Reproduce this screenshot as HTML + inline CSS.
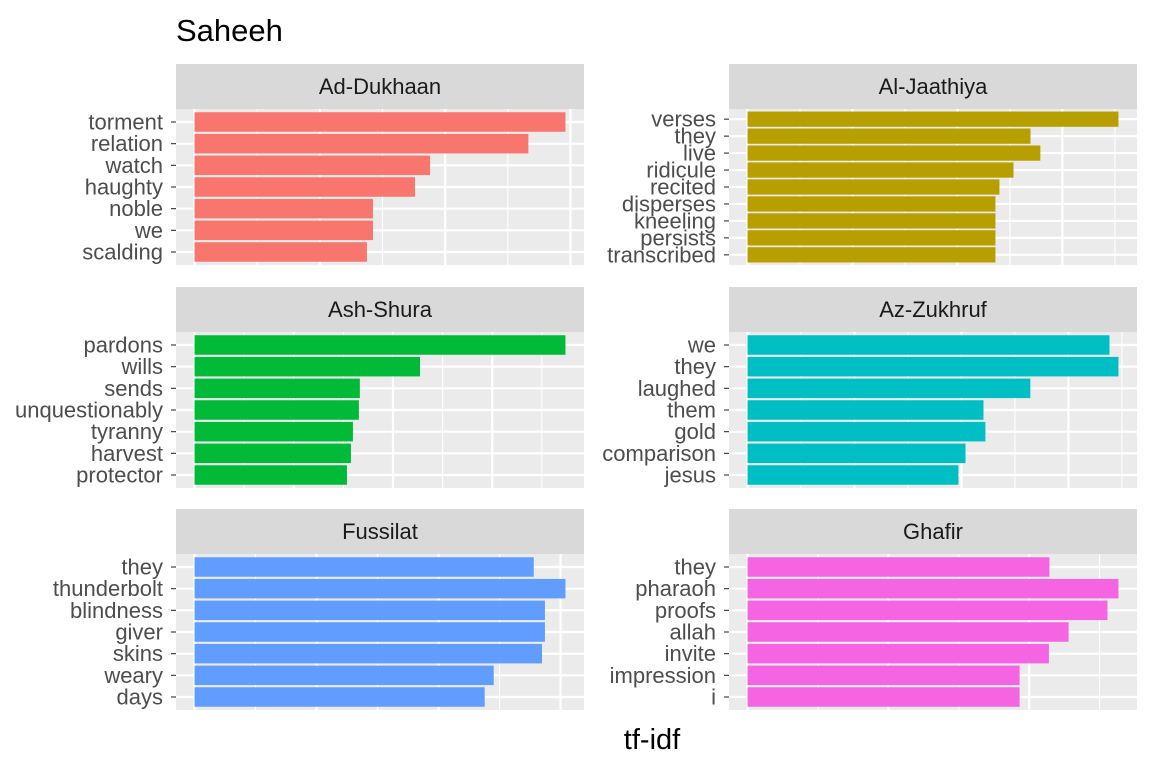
<!DOCTYPE html>
<html><head><meta charset="utf-8"><style>
html,body{margin:0;padding:0;background:#fff}
svg{display:block;font-family:"Liberation Sans",Arial,sans-serif}
</style></head><body>
<svg id="chart" width="1152" height="768" viewBox="0 0 1152 768" xmlns="http://www.w3.org/2000/svg">
<rect x="0" y="0" width="1152" height="768" fill="#fff"/>
<text x="176" y="41" font-size="31" fill="#000">Saheeh</text>
<text x="652" y="749" font-size="29" fill="#000" text-anchor="middle">tf-idf</text>
<g id="panels"></g>
</svg>
<script>
const facetNames = ["Ad-Dukhaan","Al-Jaathiya","Ash-Shura","Az-Zukhruf","Fussilat","Ghafir"];
const facetColors = ["#F8766D","#B79F00","#00BA38","#00BFC4","#619CFF","#F564E3"];
const breakSteps = [0.005,0.005,0.005,0.005,0.005,0.005];
const termsAdDukhaan = ["torment","relation","watch","haughty","noble","we","scalding"];
const valuesAdDukhaan = [0.0148,0.01332,0.0094,0.0088,0.00712,0.00712,0.00688];
const termsAlJaathiya = ["verses","they","live","ridicule","recited","disperses","kneeling","persists","transcribed"];
const valuesAlJaathiya = [0.01767,0.01348,0.01395,0.01267,0.012,0.01181,0.01181,0.01181,0.01181];
const termsAshShura = ["pardons","wills","sends","unquestionably","tyranny","harvest","protector"];
const valuesAshShura = [0.01869,0.01136,0.00833,0.00828,0.00798,0.00788,0.00768];
const termsAzZukhruf = ["we","they","laughed","them","gold","comparison","jesus"];
const valuesAzZukhruf = [0.01692,0.01734,0.01322,0.01103,0.01112,0.01019,0.00986];
const termsFussilat = ["they","thunderbolt","blindness","giver","skins","weary","days"];
const valuesFussilat = [0.0139,0.0152,0.01436,0.01436,0.01424,0.01226,0.01189];
const termsGhafir = ["they","pharaoh","proofs","allah","invite","impression","i"];
const valuesGhafir = [0.01072,0.01317,0.01278,0.0114,0.0107,0.00966,0.00966];

const allTerms = [termsAdDukhaan,termsAlJaathiya,termsAshShura,termsAzZukhruf,termsFussilat,termsGhafir];
const allValues = [valuesAdDukhaan,valuesAlJaathiya,valuesAshShura,valuesAzZukhruf,valuesFussilat,valuesGhafir];

const NS = "http://www.w3.org/2000/svg";
const root = document.getElementById('panels');
function mk(tag, attrs, parent){
  const e = document.createElementNS(NS, tag);
  for (const k in attrs) e.setAttribute(k, attrs[k]);
  parent.appendChild(e);
  return e;
}
const colX = [176, 729], panelW = 408;
const rowStripTop = [64, 287, 509], stripH = 45, panelH = 156;

facetNames.forEach((name, i) => {
  const col = i % 2, row = Math.floor(i / 2);
  const x0 = colX[col], sTop = rowStripTop[row], pTop = sTop + stripH;
  const g = mk('g', {}, root);
  
  
  const strip = mk('rect', {x:x0, y:sTop, width:panelW, height:stripH, fill:'#D9D9D9'}, g);
  
  
  const st = mk('text', {x:x0+panelW/2, y:sTop+30, 'font-size':22, fill:'#1A1A1A', 'text-anchor':'middle'}, g);
  st.textContent = name;
  
  
  const pb = mk('rect', {x:x0, y:pTop, width:panelW, height:panelH, fill:'#EBEBEB'}, g);
  
  

  const terms = allTerms[i], vals = allValues[i];
  const maxV = Math.max(...vals);
  const xs = v => x0 + (v + 0.05*maxV) / (1.1*maxV) * panelW;
  const n = terms.length, unit = panelH / (n + 0.2);
  const ys = k => pTop + (0.6 + k) * unit;
  const step = breakSteps[i];
  for (let b = 0; b * step/2 <= maxV*1.05 + 1e-12; b++) {
    const xv = xs(b*step/2);
    if (xv > x0 + panelW) break;
    const gl = mk('line', {x1:xv, x2:xv, y1:pTop, y2:pTop+panelH, stroke:'#fff', 'stroke-width': b%2===0 ? 2.2 : 1.1}, g);
    
    
  }
  terms.forEach((t, k) => {
    const y = ys(k);
    const hl = mk('line', {x1:x0, x2:x0+panelW, y1:y, y2:y, stroke:'#fff', 'stroke-width':2.2}, g);
    
    
  });
  terms.forEach((t, k) => {
    const y = ys(k);
    const bar = mk('rect', {x:xs(0), y:y - 0.45*unit, width:xs(vals[k]) - xs(0), height:0.9*unit, fill:facetColors[i]}, g);
    
    
    const tk = mk('line', {x1:x0-5, x2:x0, y1:y, y2:y, stroke:'#333', 'stroke-width':1.1}, g);
    
    
    const lb = mk('text', {x:x0-13, y:y+7.5, 'font-size':22, fill:'#4D4D4D', 'text-anchor':'end'}, g);
    lb.textContent = t;
    
    
  });
});
</script>
</body></html>
